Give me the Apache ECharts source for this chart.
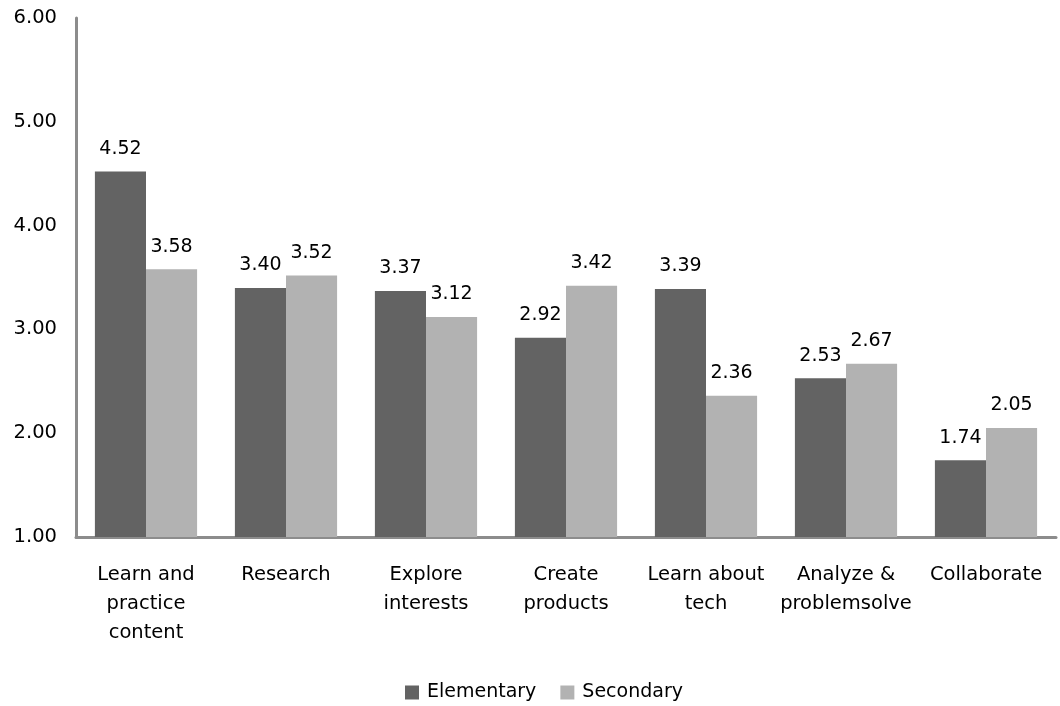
<!DOCTYPE html>
<html><head><meta charset="utf-8">
<script src="https://cdn.jsdelivr.net/npm/echarts@6/dist/echarts.min.js"></script>
<style>html,body{margin:0;padding:0;background:#fff}#c{width:1060px;height:706px}</style>
</head><body><div id="c"></div>
<script>
const categories = ['Learn and\npractice\ncontent','Research','Explore\ninterests','Create\nproducts','Learn about\ntech','Analyze &\nproblemsolve','Collaborate'];
const elementary = [4.52, 3.40, 3.37, 2.92, 3.39, 2.53, 1.74];
const secondary = [3.58, 3.52, 3.12, 3.42, 2.36, 2.67, 2.05];
const yTicks = [1, 6, 1];
const FONT = 'DejaVu Sans';
const chart = echarts.init(document.getElementById('c'), null, {renderer:'canvas'});
const lbl = {show:true, position:'top', distance:13, color:'#000', fontFamily:FONT, fontSize:19, formatter: p => p.value.toFixed(2)};
chart.setOption({
  animation:false,
  textStyle:{fontFamily:FONT},
  legend:{left:400, top:678, itemWidth:14, itemHeight:14, itemGap:24, icon:'rect',
    textStyle:{fontFamily:FONT, fontSize:19, color:'#000', padding:[0,0,0,3]},
    data:['Elementary','Secondary']},
  grid:{left:76, right:4, top:18, bottom:169, containLabel:false},
  xAxis:{type:'category', data:categories,
    axisLine:{lineStyle:{color:'#8c8c8c', width:3}}, axisTick:{show:false},
    axisLabel:{color:'#000', fontFamily:FONT, fontSize:19.5, lineHeight:29, margin:23, interval:0}},
  yAxis:{type:'value', min:yTicks[0], max:yTicks[1], interval:yTicks[2],
    axisLine:{show:true, lineStyle:{color:'#8c8c8c', width:3}}, axisTick:{show:false},
    splitLine:{show:false},
    axisLabel:{color:'#000', fontFamily:FONT, fontSize:19.5, margin:19, formatter: v => v.toFixed(2)}},
  series:[
    {name:'Elementary', type:'bar', data:elementary, itemStyle:{color:'#636363'}, barGap:'0%', barCategoryGap:'27%', label:lbl},
    {name:'Secondary', type:'bar', data:secondary, itemStyle:{color:'#b2b2b2'}, barGap:'0%', barCategoryGap:'27%', label:lbl}
  ]
});
</script></body></html>
